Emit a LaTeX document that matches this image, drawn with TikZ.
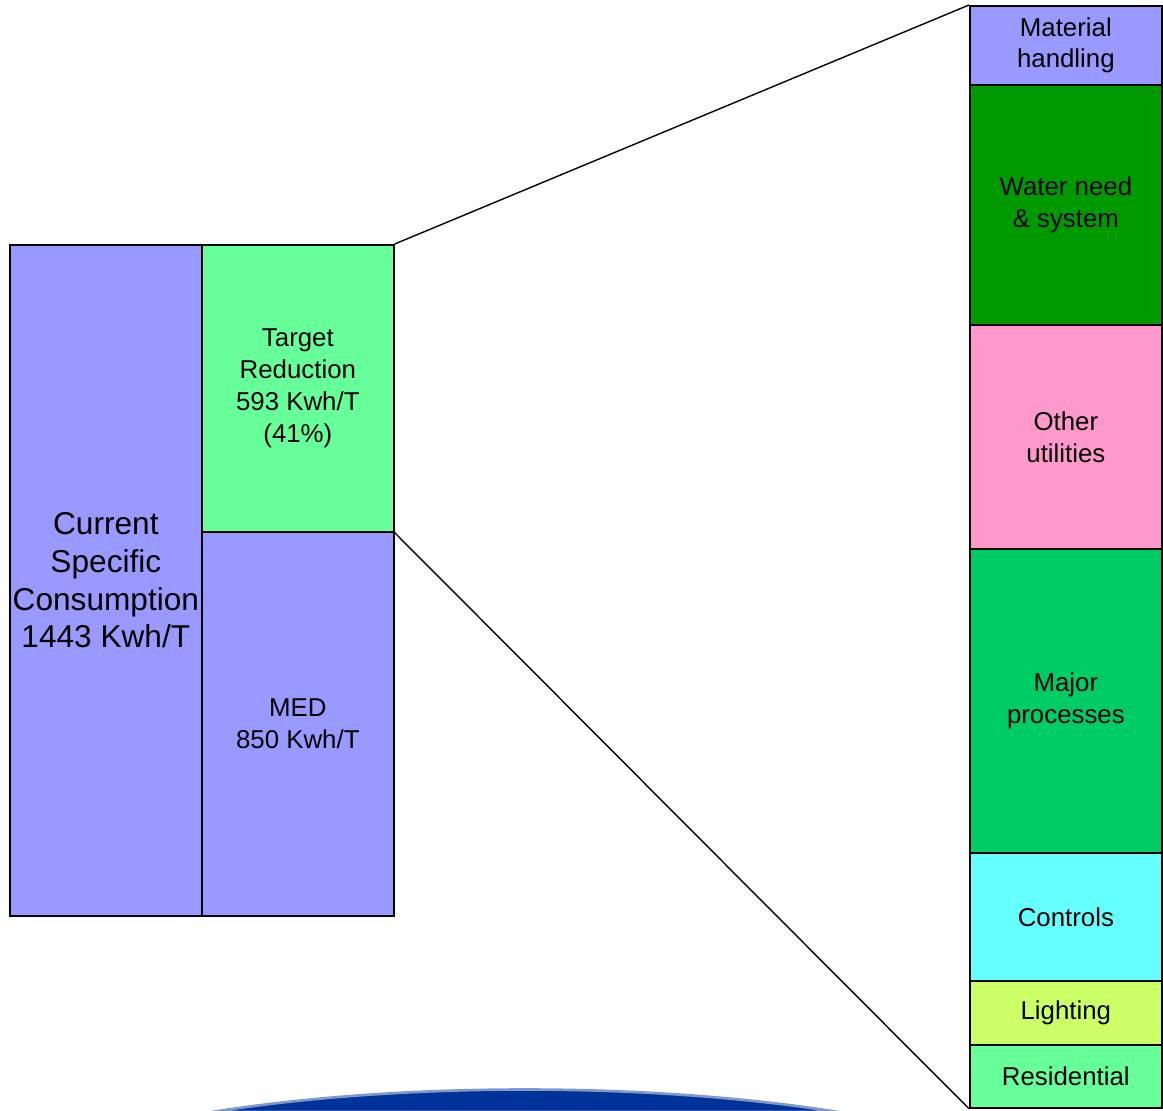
\documentclass[tikz,border=0pt]{standalone}
\usepackage{fontspec}
\setmainfont{Liberation Sans}
\usetikzlibrary{positioning}
\definecolor{lilac}{HTML}{9999FF}
\definecolor{mint}{HTML}{66FF99}
\definecolor{leaf}{HTML}{009900}
\definecolor{rose}{HTML}{FF99CC}
\definecolor{jade}{HTML}{00CC66}
\definecolor{aqua}{HTML}{66FFFF}
\definecolor{lime}{HTML}{CCFF66}
\definecolor{navy}{HTML}{003399}
\definecolor{navyedge}{HTML}{7F99CC}

\begin{document}
\begin{tikzpicture}[x=0.02cm, y=-0.02cm,
    block/.style={draw, line width=1pt, anchor=north west, inner sep=0pt,
                  minimum width=3.84cm, align=center,
                  font=\fontsize{14.7pt}{18.1pt}\selectfont},
    big/.style={font=\fontsize{18pt}{21.5pt}\selectfont},
    link/.style={line width=0.8pt}
  ]
    \useasboundingbox (0,0) rectangle (1163,1110);
    \begin{scope}
      \clip (0,0) rectangle (1163,1110);
      \fill[navy, draw=navyedge, line width=1.5pt] (212,1112) .. controls (400,1082) and (650,1082) .. (838,1112) -- cycle;
    \end{scope}

    % left bar
    \node[block, big, fill=lilac, minimum height=13.42cm] (current) at (9,244)
      {Current\\Specific\\Consumption\\1443 Kwh/T};
    \node[block, fill=mint, minimum height=5.74cm] (target) at (201,244)
      {Target\\Reduction\\593 Kwh/T\\(41\%)};
    \node[block, fill=lilac, minimum height=7.68cm] (med) at (201,531)
      {MED\\850 Kwh/T};

    % breakdown of the reduction
    \node[block, fill=lilac, minimum height=1.58cm] (mat) at (969,5) {Material\\handling};
    \node[block, fill=leaf, minimum height=4.8cm] (water) at (969,84) {Water need\\\& system};
    \node[block, fill=rose, minimum height=4.48cm] (other) at (969,324) {Other\\utilities};
    \node[block, fill=jade, minimum height=6.08cm] (major) at (969,548) {Major\\processes};
    \node[block, fill=aqua, minimum height=2.56cm] (ctrl) at (969,852) {Controls};
    \node[block, fill=lime, minimum height=1.28cm] (light) at (969,980) {Lighting};
    \node[block, fill=mint, minimum height=1.26cm] (res) at (969,1044) {Residential};

    \draw[link] (target.north east) -- (mat.north west);
    \draw[link] (target.south east) -- (res.south west);
  \end{tikzpicture}
\end{document}
